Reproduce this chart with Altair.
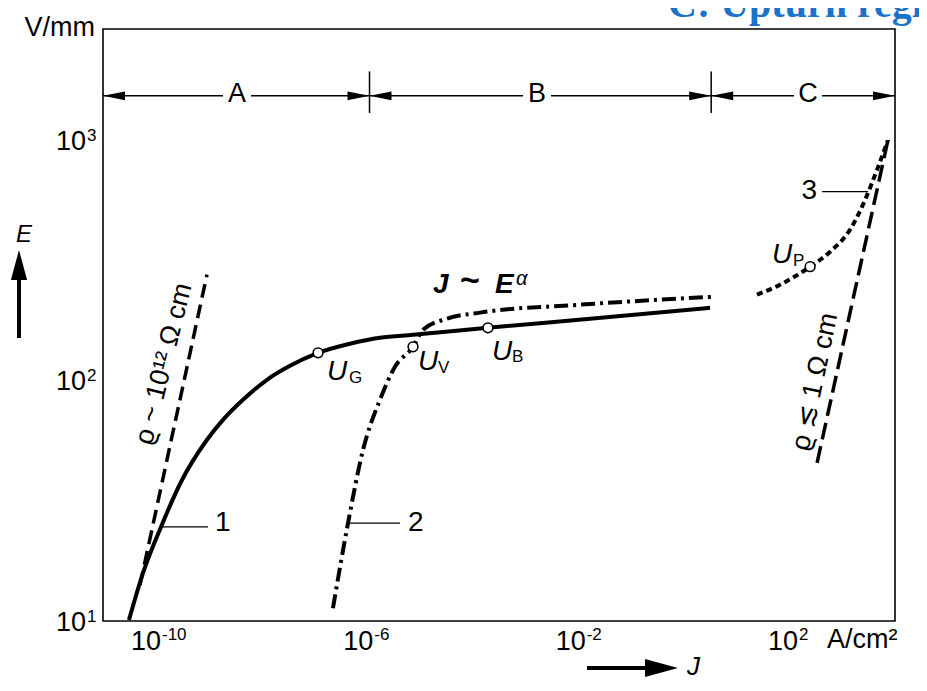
import altair as alt
import pandas as pd

SANS = "Liberation Sans"
SERIF = "Liberation Serif"
INK = "black"

# ---------------- values ----------------
# axis ranges: J in A/cm^2 (x), E in V/mm (y)
J_RANGE = [1.05e-11, 8.7e3]
E_RANGE = [10.0, 2.88e3]

x_tick_vals = [1e-10, 1e-8, 1e-6, 1e-4, 1e-2, 1.0, 1e2]
x_label_vals = [1e-10, 1e-6, 1e-2, 1e2]
x_label_exps = ["-10", "-6", "-2", "2"]
y_tick_vals = [10.0, 100.0, 1000.0]
y_label_exps = ["1", "2", "3"]

# curve 1 (solid)
c1_J = [3.24e-11, 5.94e-11, 1.30e-10, 3.09e-10, 9.55e-10, 1.91e-9, 4.55e-9,
        1.29e-8, 3.49e-8, 1.18e-7, 4.72e-7, 1.73e-6, 7.26e-6, 1.87e-4, 1.57e-2, 2.86]
c1_E = [10.1, 15.8, 24.6, 37.8, 56.6, 68.5, 83.0,
        100.5, 114.8, 130.0, 141.9, 150.3, 154.5, 165.2, 180.3, 200.0]

# curve 2 (dash-dot)
c2_J = [2.25e-7, 4.33e-7, 8.30e-7, 1.73e-6, 3.32e-6, 7.26e-6, 1.12e-5,
        3.17e-5, 1.33e-4, 1.02e-2, 3.26]
c2_E = [11.3, 25.5, 51.4, 83.0, 113.8, 137.7, 162.2,
        180.3, 191.0, 206.1, 222.3]

# curve 3 (dotted)
c3_J = [21.9, 59.6, 219.0, 521.0, 1242.0, 2377.0, 4000.0, 6442.0]
c3_E = [227.0, 249.5, 296.5, 342.0, 423.0, 562.0, 750.0, 1000.0]

# ohmic lines
r12_J = [5.21e-11, 9.55e-10]
r12_E = [14.1, 275.0]
r1_J = [296.5, 6442.0]
r1_E = [45.4, 1000.0]

# characteristic points U_G, U_V, U_B, U_P
mk_J = [1.18e-7, 7.26e-6, 1.87e-4, 219.0]
mk_E = [130.0, 137.7, 165.2, 296.5]
mk_sub = ["G", "V", "B", "P"]

# regions A, B, C
reg_names = ["A", "B", "C"]
reg_from = [1.05e-11, 1.1e-6, 3.0]
reg_to = [1.1e-6, 3.0, 8.7e3]
reg_label_J = [3.51e-9, 1.57e-3, 200.0]
E_ARROW = 1520.0
sep_J = [1.1e-6, 3.0]
sep_E_lo = 1290.0
sep_E_hi = 1920.0

# curve number pointers
num_text = ["1", "2", "3"]
num_J1 = [1.30e-10, 4.72e-7, 368.0]
num_J2 = [9.97e-10, 4.13e-6, 2710.0]
num_E = [24.6, 25.5, 608.0]

# ---------------- helpers ----------------
xs = alt.Scale(type="log", domain=J_RANGE, nice=False)
ys = alt.Scale(type="log", domain=E_RANGE, nice=False)


def X(f="J", axis=None):
    return alt.X(f"{f}:Q", scale=xs, axis=axis)


def Y(f="E", axis=None):
    return alt.Y(f"{f}:Q", scale=ys, axis=axis)


tick_style = dict(labels=False, domain=False, grid=False, ticks=True, tickSize=10,
                  tickWidth=1.6, tickColor=INK, offset=-10, title=None)
x_axis = alt.Axis(values=x_tick_vals, **tick_style)
y_axis = alt.Axis(values=y_tick_vals, **tick_style)


def line_layer(J, E, dash=None, width=4.0):
    df = pd.DataFrame({"J": J, "E": E, "o": list(range(len(J)))})
    kw = dict(color=INK, strokeWidth=width, interpolate="monotone", strokeCap="butt")
    if dash:
        kw["strokeDash"] = dash
    return alt.Chart(df).mark_line(**kw).encode(x=X(), y=Y(), order="o:Q")


def text_at(J, E, t, **kw):
    df = pd.DataFrame({"J": [J], "E": [E], "t": [t]})
    base = dict(font=SANS, fontSize=27, color=INK)
    base.update(kw)
    return alt.Chart(df).mark_text(**base).encode(x=X(), y=Y(), text="t:N")


def text_px(x, y, t, **kw):
    df = pd.DataFrame({"t": [t]})
    base = dict(font=SANS, fontSize=27, color=INK)
    base.update(kw)
    return alt.Chart(df).mark_text(**base).encode(x=alt.value(x), y=alt.value(y), text="t:N")


HEAD_R = "M0,0L-1,-0.2L-1,0.2Z"
HEAD_L = "M0,0L1,-0.2L1,0.2Z"
HEAD_UP = "M0,0L-0.27,1L0.27,1Z"
HEAD_RJ = "M0,0L-1,-0.27L-1,0.27Z"

layers = []

# ohmic dashed lines
layers.append(line_layer(r12_J, r12_E, dash=[14, 7], width=3.5))
layers.append(line_layer(r1_J, r1_E, dash=[17, 7], width=3.5))
# curves
layers.append(line_layer(c1_J, c1_E, width=4.0))
layers.append(line_layer(c2_J, c2_E, dash=[14, 5, 3, 5], width=4.0))
layers.append(line_layer(c3_J, c3_E, dash=[6, 4], width=4.0))

# markers (carry the tick-only axes)
mk_df = pd.DataFrame({"J": mk_J, "E": mk_E})
layers.append(
    alt.Chart(mk_df).mark_point(shape="circle", filled=True, fill="white", stroke=INK,
                                strokeWidth=1.6, size=95, opacity=1)
    .encode(x=X(axis=x_axis), y=Y(axis=y_axis))
)

# U labels
u_offsets = {"G": (9, 27, 31, 30), "V": (5, 23, 25, 26), "B": (4, 32, 24, 34), "P": (-38, -4, -17, -1)}
for J, E, s in zip(mk_J, mk_E, mk_sub):
    ux, uy, sx, sy = u_offsets[s]
    layers.append(text_at(J, E, "U", fontSize=28, fontStyle="italic", align="left",
                          baseline="alphabetic", dx=ux, dy=uy))
    layers.append(text_at(J, E, s, fontSize=17, align="left", baseline="alphabetic", dx=sx, dy=sy))

# curve numbers with pointer lines
ptr_df = pd.DataFrame({"J1": num_J1, "J2": num_J2, "E": num_E})
layers.append(alt.Chart(ptr_df).mark_rule(color=INK, strokeWidth=1.4)
              .encode(x=X("J1"), x2=alt.X2("J2"), y=Y()))
layers.append(text_at(num_J2[0], num_E[0], num_text[0], fontSize=28, align="left",
                      baseline="middle", dx=7, dy=-4))
layers.append(text_at(num_J2[1], num_E[1], num_text[1], fontSize=28, align="left",
                      baseline="middle", dx=8, dy=0))
layers.append(text_at(num_J1[2], num_E[2], num_text[2], fontSize=28, align="right",
                      baseline="middle", dx=-5, dy=-1))

# rotated resistivity labels
layers.append(text_at(1.48e-10, 117.0, "ϱ ~ 10¹² Ω cm", fontSize=27, angle=284,
                      align="center", baseline="middle"))
layers.append(text_at(272.0, 98.6, "ϱ ≲ 1 Ω cm", fontSize=27, angle=282,
                      align="center", baseline="middle"))

# J ~ E^alpha
layers.append(text_at(1.73e-5, 231.0, "J", fontSize=28, fontStyle="italic", fontWeight="bold",
                      align="left", baseline="alphabetic"))
layers.append(text_at(8.6e-5, 231.0, "~", fontSize=34, fontWeight="bold",
                      align="center", baseline="alphabetic", dy=-2))
layers.append(text_at(2.54e-4, 231.0, "E", fontSize=28, fontStyle="italic", fontWeight="bold",
                      align="left", baseline="alphabetic"))
layers.append(text_at(6.3e-4, 249.0, "α", fontSize=20, fontStyle="italic",
                      align="left", baseline="alphabetic"))

# region arrows A / B / C
reg_df = pd.DataFrame({"J1": reg_from, "J2": reg_to, "E": [E_ARROW] * 3})
layers.append(alt.Chart(reg_df).mark_rule(color=INK, strokeWidth=1.5)
              .encode(x=X("J1"), x2=alt.X2("J2"), y=Y()))
sep_df = pd.DataFrame({"J": sep_J, "E1": [sep_E_lo] * 2, "E2": [sep_E_hi] * 2})
layers.append(alt.Chart(sep_df).mark_rule(color=INK, strokeWidth=1.5)
              .encode(x=X(), y=Y("E1"), y2=alt.Y2("E2")))
head_r = pd.DataFrame({"J": reg_to, "E": [E_ARROW] * 3})
head_l = pd.DataFrame({"J": reg_from, "E": [E_ARROW] * 3})
layers.append(alt.Chart(head_r).mark_point(shape=HEAD_R, filled=True, color=INK, opacity=1,
                                           size=1936, strokeWidth=0).encode(x=X(), y=Y()))
layers.append(alt.Chart(head_l).mark_point(shape=HEAD_L, filled=True, color=INK, opacity=1,
                                           size=1936, strokeWidth=0).encode(x=X(), y=Y()))
lab_df = pd.DataFrame({"J": reg_label_J, "E": [E_ARROW] * 3, "t": reg_names})
layers.append(alt.Chart(lab_df).mark_square(color="white", filled=True, opacity=1, size=784)
              .encode(x=X(), y=Y()))
layers.append(alt.Chart(lab_df).mark_text(font=SANS, fontSize=27, color=INK, align="center",
                                          baseline="middle", dy=-2)
              .encode(x=X(), y=Y(), text="t:N"))

# x tick labels 10^n
xl_df = pd.DataFrame({"J": x_label_vals, "exp": x_label_exps})
layers.append(alt.Chart(xl_df).mark_text(font=SANS, fontSize=27, color=INK, align="right",
                                         baseline="alphabetic", dx=6)
              .encode(x=X(), y=alt.value(621), text=alt.value("10")))
layers.append(alt.Chart(xl_df).mark_text(font=SANS, fontSize=17, color=INK, align="left",
                                         baseline="alphabetic", dx=7)
              .encode(x=X(), y=alt.value(611), text="exp:N"))
# y tick labels 10^n
yl_df = pd.DataFrame({"E": y_tick_vals, "exp": y_label_exps})
layers.append(alt.Chart(yl_df).mark_text(font=SANS, fontSize=27, color=INK, align="right",
                                         baseline="alphabetic", dy=10)
              .encode(x=alt.value(-17), y=Y(), text=alt.value("10")))
layers.append(alt.Chart(yl_df).mark_text(font=SANS, fontSize=17, color=INK, align="left",
                                         baseline="alphabetic", dy=1)
              .encode(x=alt.value(-16), y=Y(), text="exp:N"))

# units
layers.append(text_px(-8, 7, "V/mm", align="right", baseline="alphabetic"))
layers.append(text_px(724, 619, "A/cm²", align="left", baseline="alphabetic"))

# axis quantity arrows
one = pd.DataFrame({"k": [0]})
layers.append(alt.Chart(one).mark_rule(color=INK, strokeWidth=4)
              .encode(x=alt.value(-84), y=alt.value(309), y2=alt.value(246)))
layers.append(alt.Chart(one).mark_point(shape=HEAD_UP, filled=True, color=INK, opacity=1,
                                        size=3600, strokeWidth=0)
              .encode(x=alt.value(-84), y=alt.value(221)))
layers.append(text_px(-79, 213, "E", fontSize=24, fontStyle="italic", align="center",
                      baseline="alphabetic"))
layers.append(alt.Chart(one).mark_rule(color=INK, strokeWidth=4)
              .encode(x=alt.value(484), x2=alt.value(550), y=alt.value(639)))
layers.append(alt.Chart(one).mark_point(shape=HEAD_RJ, filled=True, color=INK, opacity=1,
                                        size=4356, strokeWidth=0)
              .encode(x=alt.value(575), y=alt.value(639)))
layers.append(text_px(584, 646, "J", fontSize=26, fontStyle="italic", align="left",
                      baseline="alphabetic"))

# clipped blue heading at top right
layers.append(text_px(565, -12, "C: Upturn region", font=SERIF, fontSize=40,
                      fontWeight="bold", color="#1a73c9", align="left", baseline="alphabetic"))

chart = (
    alt.layer(*layers)
    .properties(
        width=792,
        height=592,
        padding={"left": 95, "top": 21, "right": 24, "bottom": 60},
        autosize=alt.AutoSizeParams(type="none"),
        background="white",
    )
    .configure_view(stroke=INK, strokeWidth=1.6)
)

chart.save("out.html", embed_options={"renderer": "svg", "actions": False})
